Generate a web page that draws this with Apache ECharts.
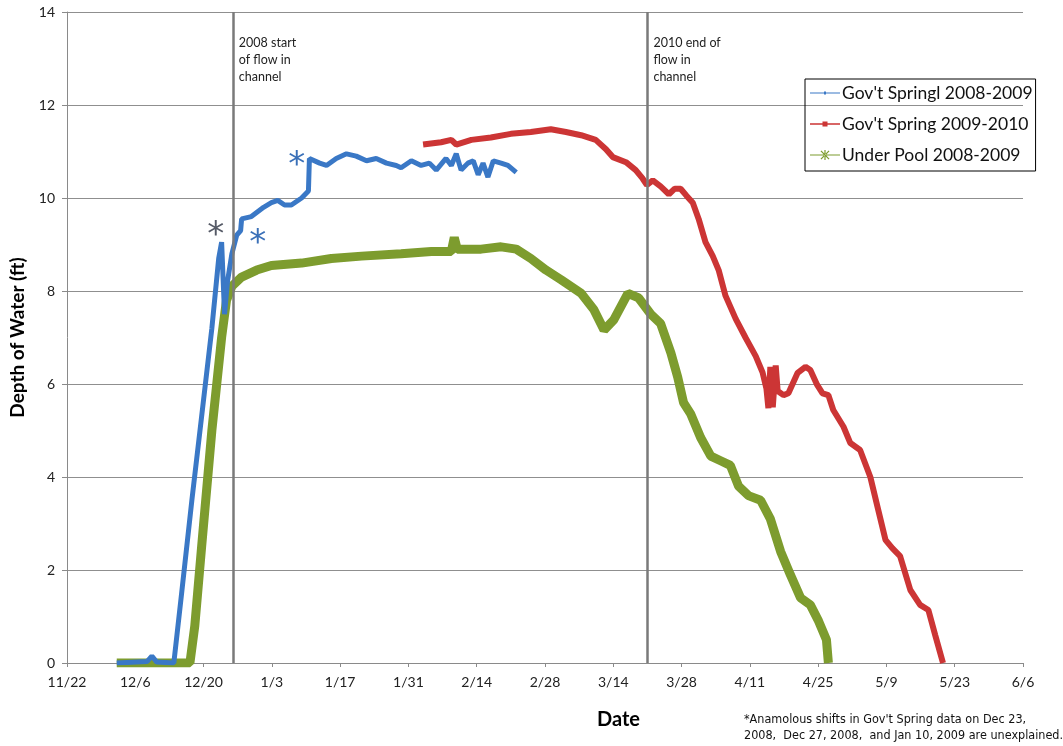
<!DOCTYPE html>
<html><head><meta charset="utf-8">
<script src="https://cdn.jsdelivr.net/npm/echarts@6/dist/echarts.min.js"></script>
<style>html,body{margin:0;padding:0;background:#fff}#c{width:1063px;height:746px}</style>
</head><body><div id="c"></div>
<script>
// x values are days after 11/22/2008 (season day)
const tickLabels = ['11/22','12/6','12/20','1/3','1/17','1/31','2/14','2/28','3/14','3/28','4/11','4/25','5/9','5/23','6/6'];

const blueDays = [10.2,16.4,17.4,18.4,21.9,23.5,25.6,27.6,29.7,31.1,31.7,32.3,32.9,33.8,34.8,35.6,35.8,37.8,40.3,41.9,43.2,44.6,46.0,48.1,49.5,49.7,51.8,53.2,55.2,57.3,59.3,61.4,63.4,65.5,67.5,68.5,70.6,72.6,74.3,75.7,77.7,78.8,79.8,80.8,82.2,83.3,84.3,85.3,86.3,87.4,89.0,90.4,92.1];
const blueVals = [0,0.03,0.15,0.02,0,1.5,3.5,5.3,7.2,8.7,9.05,7.5,8.2,8.8,9.2,9.3,9.55,9.6,9.8,9.9,9.95,9.85,9.85,10.0,10.15,10.85,10.75,10.7,10.85,10.95,10.9,10.8,10.85,10.75,10.7,10.65,10.8,10.7,10.75,10.6,10.85,10.7,10.95,10.6,10.75,10.8,10.5,10.75,10.45,10.8,10.75,10.7,10.55];

const redDays = [73.0,76.7,78.8,79.8,82.9,86.9,91.0,95.1,99.2,102.3,105.4,108.4,110.5,111.9,114.6,116.6,118.0,118.9,120.1,121.7,123.4,124.6,125.8,127.0,128.3,129.5,130.9,132.4,133.6,135.0,137.1,139.1,141.2,142.6,143.4,143.8,144.2,144.7,145.3,145.7,146.9,147.9,149.8,151.4,152.4,153.8,154.9,156.1,157.1,159.2,160.6,162.6,164.7,166.3,167.8,169.2,170.8,172.9,174.9,176.6,178.0,179.6];
const redVals = [11.15,11.2,11.25,11.15,11.25,11.3,11.38,11.42,11.48,11.42,11.35,11.25,11.05,10.88,10.77,10.6,10.42,10.28,10.38,10.25,10.08,10.2,10.2,10.05,9.9,9.55,9.05,8.75,8.45,7.9,7.4,7.0,6.6,6.25,5.9,5.48,6.37,5.5,6.4,5.85,5.76,5.8,6.24,6.37,6.3,5.98,5.8,5.76,5.44,5.08,4.73,4.58,4.0,3.3,2.65,2.47,2.3,1.57,1.25,1.14,0.6,0];

const greenDays = [10.2,25.2,26.2,27.6,29.7,31.7,32.7,33.8,35.8,38.9,41.9,48.1,54.2,60.4,68.5,74.7,78.8,79.4,80.0,84.9,89.0,92.1,95.1,98.2,101.3,105.4,108.0,110.1,112.1,115.0,117.2,119.7,121.7,123.8,125.2,126.4,127.9,129.9,132.0,134.0,136.0,137.7,139.7,142.2,144.2,146.3,148.3,150.4,152.4,154.1,155.7,156.1];
const greenVals = [0,0,0.8,2.5,5.0,7.0,7.8,8.1,8.3,8.45,8.55,8.6,8.7,8.75,8.8,8.85,8.85,9.15,8.9,8.9,8.95,8.9,8.7,8.45,8.24,7.95,7.6,7.16,7.38,7.95,7.85,7.5,7.3,6.67,6.15,5.6,5.35,4.85,4.45,4.35,4.25,3.8,3.6,3.5,3.1,2.4,1.9,1.4,1.25,0.9,0.5,0];

const seriesNames = ["Gov't Springl 2008-2009","Gov't Spring 2009-2010","Under Pool 2008-2009"];
const eventDays = [34, 119];
const eventTexts = ['2008 start\nof flow in\nchannel', '2010 end of\nflow in\nchannel'];
const starPoints = [[30.5, 9.35], [39.1, 9.18], [47.1, 10.86]];
const starColors = ['#555a66', '#3a70b8', '#3a70b8'];

const zip = (a, b) => a.map((d, i) => [d, b[i]]);
const font = 'Lato, "Open Sans", sans-serif';

const icons = [
  'path://M0,4.4h30v1.2h-30zM14,3.5h2v3h-2z',
  'path://M0,4.2h30v1.6h-30zM12.5,2.5h5v5h-5z',
  'path://M0,4.4h30v1.2h-30zM14.4,0h1.2v10h-1.2zM10.5,1.2l0.9,-0.8l8.1,8.4l-0.9,0.8zM19.5,1.2l-0.9,-0.8l-8.1,8.4l0.9,0.8z'
];

const chart = echarts.init(document.getElementById('c'));
chart.setOption({
  animation: false,
  backgroundColor: '#fff',
  grid: {left: 65, right: 40, top: 12, bottom: 83, containLabel: false},
  legend: {
    orient: 'vertical', left: 805, top: 79, padding: [5, 3, 7, 5], itemGap: 13,
    borderColor: '#000', borderWidth: 1, itemWidth: 30, itemHeight: 10,
    textStyle: {fontFamily: font, fontSize: 17.5, color: '#111', padding: [0, 0, 0, -3]},
    data: seriesNames.map((n, i) => ({name: n, icon: icons[i]}))
  },
  xAxis: {
    type: 'value', min: 0, max: 196, interval: 14,
    axisLine: {show: true, onZero: false, lineStyle: {color: '#8a8a8a', width: 1}},
    axisTick: {show: true, length: 4, lineStyle: {color: '#8a8a8a'}},
    splitLine: {show: false},
    axisLabel: {fontFamily: font, fontSize: 14, color: '#222', margin: 12,
      formatter: v => tickLabels[Math.round(v / 14)] || ''}
  },
  yAxis: {
    type: 'value', min: 0, max: 14, interval: 2,
    name: 'Depth of Water (ft)', nameLocation: 'middle', nameGap: 40,
    nameTextStyle: {fontFamily: font, fontSize: 19, fontWeight: 'bold', color: '#000'},
    axisLine: {show: true, lineStyle: {color: '#8a8a8a', width: 1}},
    axisTick: {show: true, length: 5, lineStyle: {color: '#8a8a8a'}},
    splitLine: {show: true, lineStyle: {color: '#8f8f8f', width: 1}},
    axisLabel: {fontFamily: font, fontSize: 14, color: '#222', margin: 12}
  },
  series: [
    {name: seriesNames[0], type: 'line', data: zip(blueDays, blueVals), z: 4,
     showSymbol: false, color: '#3a78c6',
     lineStyle: {width: 5, color: '#3a78c6'},
     markLine: {silent: true, symbol: 'none', label: {show: false},
       lineStyle: {color: '#7a7a7a', width: 2.5, type: 'solid'},
       data: eventDays.map(d => ({xAxis: d}))}},
    {name: seriesNames[1], type: 'line', data: zip(redDays, redVals), z: 3,
     showSymbol: false, color: '#cc3535',
     lineStyle: {width: 6, color: '#cc3535'}},
    {name: seriesNames[2], type: 'line', data: zip(greenDays, greenVals), z: 2,
     showSymbol: false, color: '#7d9c2e',
     lineStyle: {width: 9, color: '#7d9c2e'}}
  ]
});

const g = [];
eventDays.forEach((d, i) => {
  const p = chart.convertToPixel({gridIndex: 0}, [d, 14]);
  g.push({type: 'text', left: p[0] + 6, top: p[1] + 22,
    style: {text: eventTexts[i], font: '12.5px ' + font, fill: '#222', lineHeight: 17}});
});
starPoints.forEach((s, i) => {
  const p = chart.convertToPixel({gridIndex: 0}, s);
  g.push({type: 'text', x: p[0], y: p[1] + 8,
    style: {text: '*', font: '34px "DejaVu Sans", sans-serif', fill: starColors[i], align: 'center', verticalAlign: 'middle'}});
});
g.push({type: 'text', left: 597, top: 710,
  style: {text: 'Date', font: 'bold 20px ' + font, fill: '#000'}});
g.push({type: 'text', left: 744, top: 712,
  style: {text: "*Anamolous shifts in Gov't Spring data on Dec 23,\n2008,  Dec 27, 2008,  and Jan 10, 2009 are unexplained.",
    font: '12.5px "Liberation Sans Narrow", "DejaVu Sans Condensed", sans-serif', fill: '#111', lineHeight: 16}});
chart.setOption({graphic: g});
</script></body></html>
